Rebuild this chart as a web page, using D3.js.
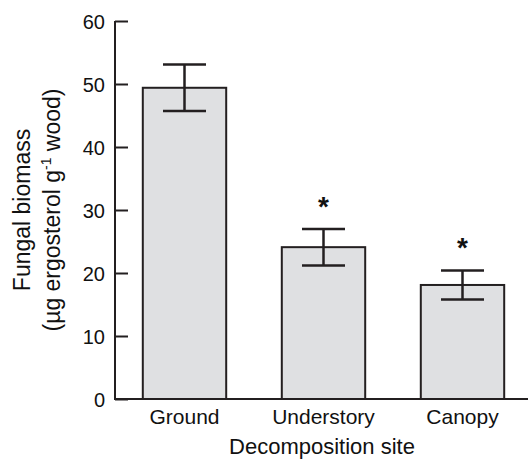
<!DOCTYPE html>
<html>
<head>
<meta charset="utf-8">
<script src="https://cdn.jsdelivr.net/npm/d3@7"></script>
<style>
  body { margin: 0; background: #fff; }
  text { font-family: "Liberation Sans", Arial, sans-serif; fill: #111; }
</style>
</head>
<body>
<svg id="chart" width="528" height="460"></svg>
<script>
// data
var sites = ["Ground", "Understory", "Canopy"];
var biomass = [49.4, 24.1, 18.1];
var stdErr = [3.7, 2.9, 2.3];
var signif = [false, true, true];
var yTicks = [0, 10, 20, 30, 40, 50, 60];

var svg = d3.select("#chart");
var axisX = 115, plotTop = 21, plotBottom = 399;

var x = d3.scaleBand()
  .domain(sites)
  .range([axisX, 532])
  .paddingInner(0.4)
  .paddingOuter(0.2);

var y = d3.scaleLinear()
  .domain([0, 60])
  .range([plotBottom, plotTop]);

var ink = "#231f20";

// bars
svg.selectAll(".bar")
  .data(sites)
  .enter().append("rect")
    .attr("class", "bar")
    .attr("x", function(d) { return x(d); })
    .attr("y", function(d, i) { return y(biomass[i]); })
    .attr("width", x.bandwidth())
    .attr("height", function(d, i) { return y(0) - y(biomass[i]); })
    .attr("fill", "#dfe0e2")
    .attr("stroke", ink)
    .attr("stroke-width", 2);

// error bars
var cap = 21.5;
sites.forEach(function(s, i) {
  var cx = x(s) + x.bandwidth() / 2;
  var hi = y(biomass[i] + stdErr[i]), lo = y(biomass[i] - stdErr[i]);
  var g = svg.append("g").attr("stroke", ink).attr("stroke-width", 2.5);
  g.append("line").attr("x1", cx).attr("x2", cx).attr("y1", hi).attr("y2", lo);
  g.append("line").attr("x1", cx - cap).attr("x2", cx + cap).attr("y1", hi).attr("y2", hi);
  g.append("line").attr("x1", cx - cap).attr("x2", cx + cap).attr("y1", lo).attr("y2", lo);
  if (signif[i]) {
    svg.append("text")
      .attr("x", cx)
      .attr("y", hi - 13)
      .attr("text-anchor", "middle")
      .attr("font-size", "28px")
      .attr("font-weight", "bold")
      .text("*");
  }
});

// y axis: ticks point inward
var yAxis = d3.axisRight(y).tickValues(yTicks).tickSize(13).tickFormat(d3.format("d"));
var ya = svg.append("g")
  .attr("transform", "translate(" + axisX + ",0)")
  .call(yAxis);
ya.select(".domain").remove();
ya.selectAll(".tick line").attr("stroke", ink).attr("stroke-width", 2);
ya.selectAll(".tick text")
  .attr("x", -10)
  .attr("dy", "0.35em")
  .attr("text-anchor", "end")
  .attr("font-size", "20px")
  .attr("fill", "#111");

svg.append("line")
  .attr("x1", axisX).attr("x2", axisX)
  .attr("y1", plotTop).attr("y2", plotBottom + 1)
  .attr("stroke", ink).attr("stroke-width", 2);

// x baseline + labels
svg.append("line")
  .attr("x1", axisX).attr("x2", 528)
  .attr("y1", plotBottom).attr("y2", plotBottom)
  .attr("stroke", ink).attr("stroke-width", 2);

svg.selectAll(".xlab")
  .data(sites)
  .enter().append("text")
    .attr("class", "xlab")
    .attr("x", function(d) { return x(d) + x.bandwidth() / 2; })
    .attr("y", 424)
    .attr("text-anchor", "middle")
    .attr("font-size", "21px")
    .text(function(d) { return d; });

svg.append("text")
  .attr("x", 322)
  .attr("y", 454)
  .attr("text-anchor", "middle")
  .attr("font-size", "22px")
  .text("Decomposition site");

// y title, two lines
var yt = svg.append("g").attr("transform", "translate(0,210) rotate(-90)");
yt.append("text")
  .attr("x", 0).attr("y", 30)
  .attr("text-anchor", "middle")
  .attr("font-size", "23px")
  .text("Fungal biomass");
var t2 = yt.append("text")
  .attr("x", 0).attr("y", 60)
  .attr("text-anchor", "middle")
  .attr("font-size", "23px");
t2.append("tspan").text("(\u00b5g ergosterol g");
t2.append("tspan").attr("dy", -9).attr("font-size", "14px").text("-1");
t2.append("tspan").attr("dy", 9).text(" wood)");
</script>
</body>
</html>
